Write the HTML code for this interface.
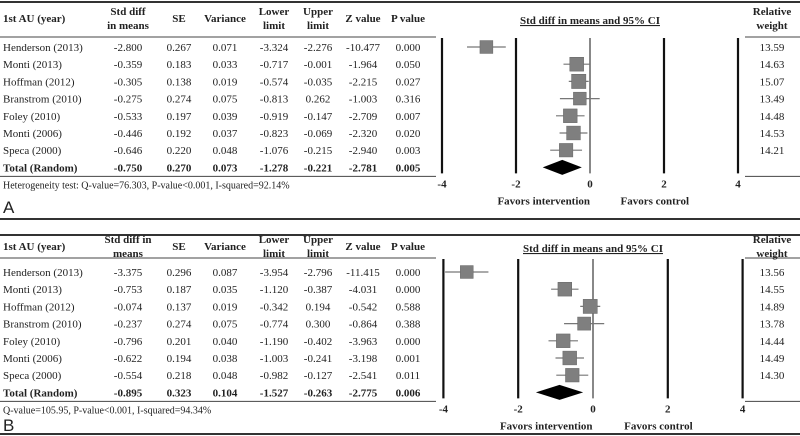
<!DOCTYPE html>
<html><head><meta charset="utf-8"><style>
body{margin:0;background:#fff}
svg{display:block;font-family:"Liberation Serif",serif}
</style></head><body>
<svg id="c" width="800" height="436" viewBox="0 0 800 436"></svg>
<script>
const studies=["Henderson (2013)","Monti (2013)","Hoffman (2012)","Branstrom (2010)","Foley (2010)","Monti (2006)","Speca (2000)"];
const aMean=[-2.800,-0.359,-0.305,-0.275,-0.533,-0.446,-0.646];
const aSE=["0.267","0.183","0.138","0.274","0.197","0.192","0.220"];
const aVar=["0.071","0.033","0.019","0.075","0.039","0.037","0.048"];
const aLow=[-3.324,-0.717,-0.574,-0.813,-0.919,-0.823,-1.076];
const aUp=[-2.276,-0.001,-0.035,0.262,-0.147,-0.069,-0.215];
const aZ=["-10.477","-1.964","-2.215","-1.003","-2.709","-2.320","-2.940"];
const aP=["0.000","0.050","0.027","0.316","0.007","0.020","0.003"];
const aW=[13.59,14.63,15.07,13.49,14.48,14.53,14.21];
const aTotal=[-0.750,0.270,0.073,-1.278,-0.221,-2.781,0.005];
const bMean=[-3.375,-0.753,-0.074,-0.237,-0.796,-0.622,-0.554];
const bSE=["0.296","0.187","0.137","0.274","0.201","0.194","0.218"];
const bVar=["0.087","0.035","0.019","0.075","0.040","0.038","0.048"];
const bLow=[-3.954,-1.120,-0.342,-0.774,-1.190,-1.003,-0.982];
const bUp=[-2.796,-0.387,0.194,0.300,-0.402,-0.241,-0.127];
const bZ=["-11.415","-4.031","-0.542","-0.864","-3.963","-3.198","-2.541"];
const bP=["0.000","0.000","0.588","0.388","0.000","0.001","0.011"];
const bW=[13.56,14.55,14.89,13.78,14.44,14.49,14.30];
const bTotal=[-0.895,0.323,0.104,-1.527,-0.263,-2.775,0.006];
const ticks=[-4,-2,0,2,4];

const S=document.getElementById('c'),NS="http://www.w3.org/2000/svg";
function el(t,a,p){const e=document.createElementNS(NS,t);for(const k in a)e.setAttribute(k,a[k]);(p||S).appendChild(e);return e;}
function txt(x,y,s,o,p){o=o||{};const e=el('text',{x:x,y:y,'font-size':o.fs||11,'text-anchor':o.a||'middle',fill:'#222','font-weight':o.b?'bold':'normal'},p);if(o.u)e.setAttribute('text-decoration','underline');e.textContent=s;return e;}

function panel(cfg){
  const g=el('g',{});
  
  
  const y0=cfg.y0,rh=17.2;
  const X=v=>cfg.zero+v*cfg.unit;
  const cols=[128,179,225,274,318,363,408];
  txt(3,y0+cfg.hy,"1st AU (year)",{a:'start',b:1},g);
  cfg.hdr.forEach((h,i)=>{ if(h.length==2){txt(cols[i],y0+cfg.hy-7,h[0],{b:1},g);txt(cols[i],y0+cfg.hy+7,h[1],{b:1},g);} else txt(cols[i],y0+cfg.hy,h[0],{b:1},g);});
  txt(772,y0+cfg.hy-7,"Relative",{b:1},g);txt(772,y0+cfg.hy+7,"weight",{b:1},g);
  const tt=txt((X(-4)+X(4))/2,y0+cfg.hy+2,"Std diff in means and 95% CI",{b:1,u:1},g);
  
  
  const hl=y0+cfg.hh;
  el('line',{x1:0,x2:436,y1:hl,y2:hl,stroke:'#444','stroke-width':1},g);
  el('line',{x1:745,x2:800,y1:hl,y2:hl,stroke:'#444','stroke-width':1},g);
  const r0=hl+cfg.ro;
  const yb=r0+7*rh+9;
  el('line',{x1:0,x2:436,y1:yb,y2:yb,stroke:'#444','stroke-width':1},g);
  el('line',{x1:745,x2:800,y1:yb,y2:yb,stroke:'#444','stroke-width':1},g);
  ticks.forEach(t=>{
    const l=el('line',{x1:X(t),x2:X(t),y1:hl+1,y2:yb-3,stroke:'#111','stroke-width':t==0?1:2.2},g);
    
    
    const tl=txt(X(t),yb+11,String(t),{b:1},g);
    
    
  });
  txt(X(-1.25),yb+28,"Favors intervention",{b:1},g);
  txt(X(1.75),yb+28,"Favors control",{b:1},g);
  studies.forEach((s,i)=>{
    const y=r0+i*rh+4;
    txt(3,y,s,{a:'start'},g);
    const vals=[cfg.m[i].toFixed(3),cfg.se[i],cfg.v[i],cfg.lo[i].toFixed(3),cfg.up[i].toFixed(3),cfg.z[i],cfg.p[i]];
    vals.forEach((v,j)=>txt(cols[j],y,v,{},g));
    txt(772,y,cfg.w[i].toFixed(2),{},g);
    const cy=r0+i*rh;
    const wl=el('line',{x1:X(cfg.lo[i]),x2:X(cfg.up[i]),y1:cy,y2:cy,stroke:'#777','stroke-width':1.2},g);
    
    
    const sz=cfg.w[i]*0.95;
    const sq=el('rect',{x:X(cfg.m[i])-sz/2,y:cy-sz/2,width:sz,height:sz,fill:'#7f7f7f',stroke:'#666','stroke-width':0.5},g);
    
    
  });
  const ty=r0+7*rh+4;
  txt(3,ty,"Total (Random)",{a:'start',b:1},g);
  const T=cfg.t;
  T.forEach((v,j)=>txt(cols[j],ty,v.toFixed(3),{b:1},g));
  const dy=r0+7*rh;
  const d=el('polygon',{points:`${X(T[3])},${dy} ${X(T[0])},${dy-7.5} ${X(T[4])},${dy} ${X(T[0])},${dy+7.5}`,fill:'#000'},g);
  
  
  txt(3,yb+12,cfg.het,{a:'start',fs:10},g);
  txt(3,cfg.labY,cfg.label,{a:'start',fs:17},g).setAttribute('font-family','Liberation Sans');
}
el('line',{x1:0,x2:800,y1:2,y2:2,stroke:'#333','stroke-width':2});
el('line',{x1:0,x2:800,y1:219,y2:219,stroke:'#333','stroke-width':2});
el('line',{x1:0,x2:800,y1:235,y2:235,stroke:'#333','stroke-width':2});
el('line',{x1:0,x2:800,y1:434,y2:434,stroke:'#333','stroke-width':2});
panel({name:'panel-a',y0:4,hh:33,hy:18,ro:10,zero:590,unit:37,m:aMean,se:aSE,v:aVar,lo:aLow,up:aUp,z:aZ,p:aP,w:aW,t:aTotal,
  hdr:[["Std diff","in means"],["SE"],["Variance"],["Lower","limit"],["Upper","limit"],["Z value"],["P value"]],
  het:"Heterogeneity test: Q-value=76.303, P-value<0.001, I-squared=92.14%",label:"A",labY:213});
panel({name:'panel-b',y0:236,hh:22,hy:14,ro:14,zero:593,unit:37.4,m:bMean,se:bSE,v:bVar,lo:bLow,up:bUp,z:bZ,p:bP,w:bW,t:bTotal,
  hdr:[["Std diff in","means"],["SE"],["Variance"],["Lower","limit"],["Upper","limit"],["Z value"],["P value"]],
  het:"Q-value=105.95, P-value<0.001, I-squared=94.34%",label:"B",labY:431});
</script>
</body></html>
